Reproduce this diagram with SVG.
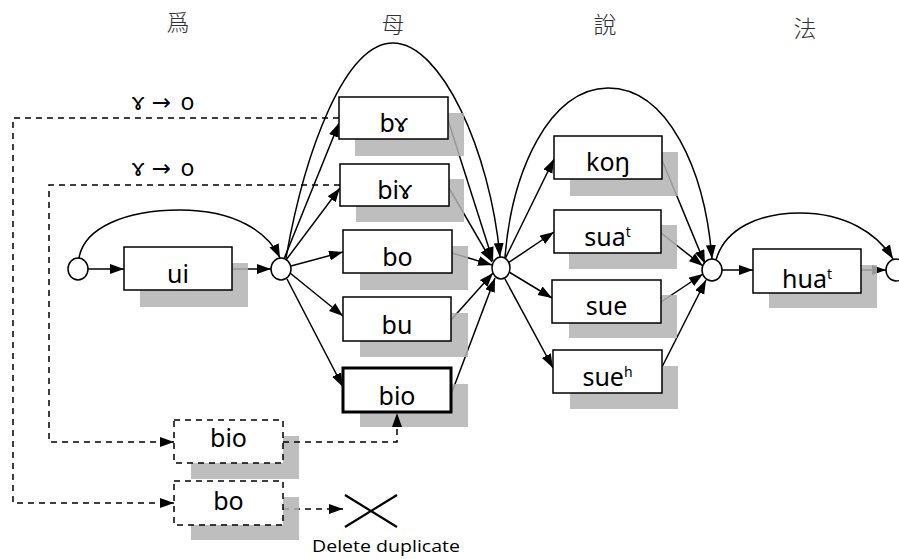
<svg xmlns="http://www.w3.org/2000/svg" width="899" height="559" viewBox="0 0 899 559">
<style>
.c{fill:none;stroke:#000;stroke-width:1.5}
.d{fill:none;stroke:#000;stroke-width:1.5;stroke-dasharray:6,5}
.sh{fill:#b3b3b3;opacity:0.85}
.bx{fill:#fff;stroke:#000;stroke-width:1.5}
.bxb{fill:#fff;stroke:#000;stroke-width:3}
.bxd{fill:#fff;stroke:#000;stroke-width:1.5;stroke-dasharray:6,5}
.ci{fill:#fff;stroke:#000;stroke-width:1.5}
.t{font-family:"Noto Sans","DejaVu Sans",sans-serif;font-size:25px;text-anchor:middle;fill:#000}
.sup{font-size:14px}
.lb{font-family:"Noto Sans","DejaVu Sans",sans-serif;font-size:23px;text-anchor:middle;fill:#000}
.zh{font-family:"Noto Sans CJK TC","Noto Sans CJK JP",sans-serif;font-size:23px;font-weight:300;text-anchor:middle;fill:#333}
.sm{font-family:"Open Sans","Noto Sans",sans-serif;font-size:17px;text-anchor:middle;fill:#000}
</style>
<defs>
<marker id="ah" markerUnits="userSpaceOnUse" markerWidth="15" markerHeight="11" refX="14" refY="5" orient="auto">
<path d="M0,0 L14,5 L0,10 z" fill="#000"/>
</marker>
</defs>
<g id="headings">
<text class="zh" x="178" y="31">爲</text>
<text class="zh" x="393" y="33">母</text>
<text class="zh" x="605" y="33">說</text>
<text class="zh" x="805" y="37">法</text>
</g>
<g id="labels">
<text class="lb" y="110"><tspan x="138">ɤ</tspan><tspan x="161.5">→</tspan><tspan x="187.5">o</tspan></text>
<text class="lb" y="176"><tspan x="138">ɤ</tspan><tspan x="161.5">→</tspan><tspan x="187.5">o</tspan></text>
<text class="sm" x="386" y="552" textLength="148" lengthAdjust="spacingAndGlyphs">Delete duplicate</text>
</g>
<g id="connectors">
<path class="c" marker-end="url(#ah)" d="M88,269 L124,269"/>
<path class="c" marker-end="url(#ah)" d="M232,269 L271,269"/>
<path class="c" marker-end="url(#ah)" d="M79,258 C84,228 125,210 180,210 C235,210 268,232 280,258"/>
<path class="c" marker-end="url(#ah)" d="M284,259 L339,123"/>
<path class="c" marker-end="url(#ah)" d="M286,260 L340,188"/>
<path class="c" marker-end="url(#ah)" d="M291,266 L343,252"/>
<path class="c" marker-end="url(#ah)" d="M290,273 L343,316"/>
<path class="c" marker-end="url(#ah)" d="M287,279 L343,387"/>
<path class="c" marker-end="url(#ah)" d="M286,258 C305,150 345,43 393,43 C441,43 490,150 500,257"/>
<path class="c" marker-end="url(#ah)" d="M448,120 L493,261"/>
<path class="c" marker-end="url(#ah)" d="M449,188 L492,262"/>
<path class="c" marker-end="url(#ah)" d="M452,253 L492,265"/>
<path class="c" marker-end="url(#ah)" d="M451,320 L493,273"/>
<path class="c" marker-end="url(#ah)" d="M452,392 L495,278"/>
<path class="c" marker-end="url(#ah)" d="M505,259 L554,159"/>
<path class="c" marker-end="url(#ah)" d="M508,263 L554,232"/>
<path class="c" marker-end="url(#ah)" d="M509,272 L552,298"/>
<path class="c" marker-end="url(#ah)" d="M505,279 L553,368"/>
<path class="c" marker-end="url(#ah)" d="M505,257 C512,170 550,88 608,88 C668,88 705,170 712,259"/>
<path class="c" marker-end="url(#ah)" d="M662,160 L705,264"/>
<path class="c" marker-end="url(#ah)" d="M661,233 L703,266"/>
<path class="c" marker-end="url(#ah)" d="M661,302 L703,274"/>
<path class="c" marker-end="url(#ah)" d="M662,367 L706,280"/>
<path class="c" marker-end="url(#ah)" d="M722,270 L753,270"/>
<path class="c" marker-end="url(#ah)" d="M861,270 L886,270"/>
<path class="c" marker-end="url(#ah)" d="M716,260 C725,228 760,213 800,213 C845,213 877,233 893,259"/>
<path class="d" marker-end="url(#ah)" d="M339,118 L13,118 L13,503 L174,503"/>
<path class="d" marker-end="url(#ah)" d="M340,185 L49,185 L49,442 L174,442"/>
<path class="d" marker-end="url(#ah)" d="M283,509 L343,509"/>
</g>
<g id="c1"><ellipse class="ci" cx="78" cy="269" rx="10" ry="11"/></g>
<g id="c2"><ellipse class="ci" cx="281" cy="269" rx="10" ry="11"/></g>
<g id="c3"><ellipse class="ci" cx="501" cy="268" rx="9" ry="11"/></g>
<g id="c4"><ellipse class="ci" cx="712" cy="270" rx="10" ry="11"/></g>
<g id="c5"><ellipse class="ci" cx="896" cy="270" rx="10" ry="11"/></g>
<g id="n-ui"><rect class="sh" x="140" y="263" width="108" height="44"/><rect class="bx" x="124" y="247" width="108" height="43"/><text class="t" x="178" y="283">ui</text></g>
<g id="n-bgamma"><rect class="sh" x="355" y="113" width="109" height="43"/><rect class="bx" x="339" y="97" width="109" height="42"/><text class="t" x="393.5" y="132">bɤ</text></g>
<g id="n-bigamma"><rect class="sh" x="356" y="179" width="108" height="43"/><rect class="bx" x="340" y="164" width="109" height="42"/><text class="t" x="394.5" y="199">biɤ</text></g>
<g id="n-bo"><rect class="sh" x="360" y="246" width="108" height="44"/><rect class="bx" x="343" y="230" width="109" height="43"/><text class="t" x="397.5" y="266">bo</text></g>
<g id="n-bu"><rect class="sh" x="360" y="313" width="108" height="44"/><rect class="bx" x="343" y="297" width="108" height="44"/><text class="t" x="397" y="334">bu</text></g>
<g id="n-bio"><rect class="sh" x="360" y="384" width="108" height="43"/><rect class="bxb" x="343" y="368" width="108" height="44"/><text class="t" x="397" y="405">bio</text></g>
<g id="n-kong"><rect class="sh" x="570" y="152" width="108" height="44"/><rect class="bx" x="554" y="136" width="108" height="43"/><text class="t" x="608" y="171">koŋ</text></g>
<g id="n-suat"><rect class="sh" x="569" y="225" width="108" height="44"/><rect class="bx" x="554" y="210" width="107" height="43"/><text class="t" x="607.5" y="246">sua<tspan class="sup" dy="-9">t</tspan></text></g>
<g id="n-sue"><rect class="sh" x="569" y="295" width="108" height="43"/><rect class="bx" x="552" y="280" width="109" height="43"/><text class="t" x="606.5" y="315">sue</text></g>
<g id="n-sueh"><rect class="sh" x="570" y="366" width="108" height="43"/><rect class="bx" x="553" y="350" width="109" height="43"/><text class="t" x="607.5" y="386">sue<tspan class="sup" dy="-9">h</tspan></text></g>
<g id="n-huat"><rect class="sh" x="769" y="265" width="108" height="43"/><rect class="bx" x="753" y="249" width="108" height="44"/><text class="t" x="807" y="288">hua<tspan class="sup" dy="-9">t</tspan></text></g>
<g id="n-bio-dashed"><rect class="sh" x="191" y="436" width="108" height="43"/><rect class="bxd" x="174" y="420" width="109" height="43"/><text class="t" x="228.5" y="447">bio</text></g>
<g id="n-bo-dashed"><rect class="sh" x="191" y="497" width="108" height="43"/><rect class="bxd" x="174" y="481" width="109" height="44"/><text class="t" x="228.5" y="510">bo</text></g>
<g id="x-mark"><path d="M345,495 L397,527 M345,527 L397,495" fill="none" stroke="#000" stroke-width="2.2"/></g>
<g id="connectors-top">
<path class="d" marker-end="url(#ah)" d="M283,442 L397,442 L397,413"/>
</g>
</svg>
